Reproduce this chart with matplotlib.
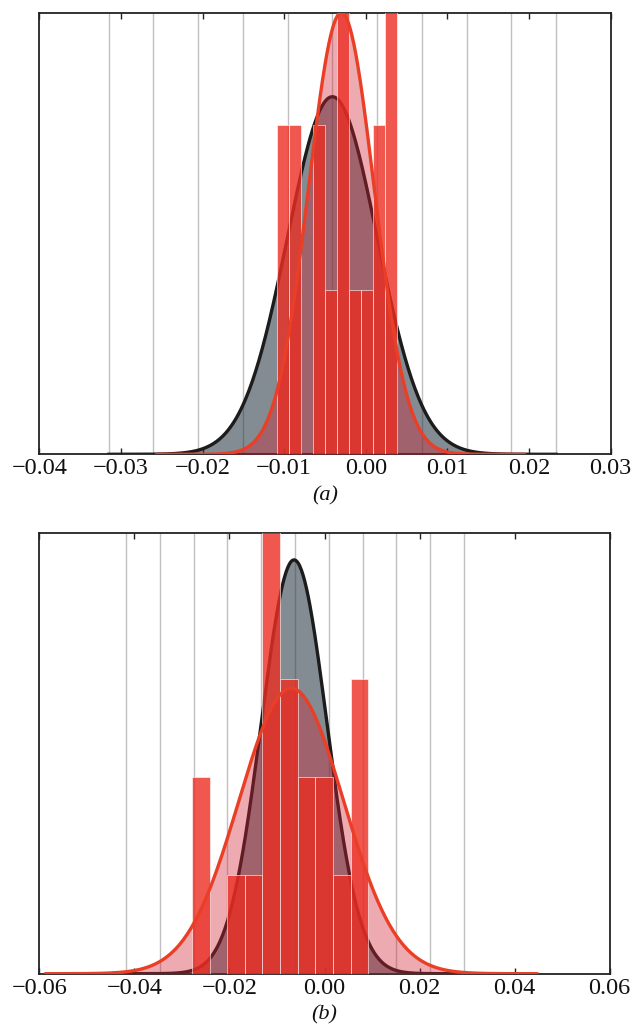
import numpy as np
import matplotlib
matplotlib.use("Agg")
import matplotlib.pyplot as plt
from matplotlib import font_manager as fm

# ---------------- data ----------------
# panel (a)
a_edges = [-0.01087, -0.00941, -0.00794, -0.00648, -0.00501, -0.00355,
           -0.00208, -0.00062, 0.00084, 0.00231, 0.00377]
a_counts = [2, 2, 0, 2, 1, 3, 1, 1, 2, 3]
a_black = dict(mean=-0.0041, sigma=0.0055, peak=2.174, lo=-0.03149, hi=0.02331)
a_red = dict(mean=-0.0030, sigma=0.0040, peak=2.685, lo=-0.0256, hi=0.0194)
a_xticks = [-0.04, -0.03, -0.02, -0.01, 0.00, 0.01, 0.02, 0.03]
a_xlim = (-0.04, 0.03)
a_ylim = (0, 2.685)

# panel (b)
b_edges = [-0.02790, -0.02419, -0.02048, -0.01677, -0.01306, -0.00935,
           -0.00564, -0.00193, 0.00178, 0.00549, 0.00920]
b_counts = [2, 0, 1, 1, 5, 3, 2, 2, 1, 3]
b_black = dict(mean=-0.0064, sigma=0.0069, peak=4.213, lo=-0.04176, hi=0.02936)
b_red = dict(mean=-0.0070, sigma=0.0110, peak=2.906, lo=-0.0586, hi=0.04465)
b_xticks = [-0.06, -0.04, -0.02, 0.00, 0.02, 0.04, 0.06]
b_xlim = (-0.06, 0.06)
b_ylim = (0, 4.49)

labels = ["(a)", "(b)"]

# ---------------- style ----------------
BAR = "#eb2d23"
RED_LINE = "#ea3f26"
RED_FILL = "#d22030"
BLACK_LINE = "#1c1c1c"
BLACK_FILL = "#2f3f4a"
GRID = "#c0c0c0"

try:
    serif_path = fm.findfont(fm.FontProperties(family="Liberation Serif"),
                             fallback_to_default=False)
    TICKFONT = fm.FontProperties(fname=serif_path, size=17.5)
    LABFONT = fm.FontProperties(fname=fm.findfont(
        fm.FontProperties(family="Liberation Serif", style="italic"),
        fallback_to_default=False), size=16)
except Exception:
    TICKFONT = fm.FontProperties(family="serif", size=17.5)
    LABFONT = fm.FontProperties(family="serif", style="italic", size=16)

fig = plt.figure(figsize=(6.35, 10.25), dpi=100)
ax_a = fig.add_axes([39.3 / 635, 1 - 454.3 / 1025, (610.7 - 39.3) / 635, (454.3 - 12.7) / 1025])
ax_b = fig.add_axes([39.3 / 635, 1 - 973.7 / 1025, (609.7 - 39.3) / 635, (973.7 - 532.7) / 1025])


def gauss(p, n=400):
    x = np.linspace(p["lo"], p["hi"], n)
    y = p["peak"] * np.exp(-0.5 * ((x - p["mean"]) / p["sigma"]) ** 2)
    return x, y


def fmt(v):
    if abs(v) < 1e-12:
        return "0.00"
    s = "%.2f" % v
    return "\u2212" + s[1:] if v < 0 else s


def panel(ax, edges, counts, black, red, xticks, xlim, ylim, label):
    # grid lines spanning the fitted-curve range
    for gx in np.linspace(black["lo"], black["hi"], 11):
        ax.axvline(gx, color=GRID, lw=1.0, zorder=0)
    xb, yb = gauss(black)
    ax.fill_between(xb, 0, yb, color=BLACK_FILL, alpha=0.6, lw=0, zorder=1)
    ax.plot(xb, yb, color=BLACK_LINE, lw=2.4, zorder=2)
    xr, yr = gauss(red)
    ax.fill_between(xr, 0, yr, color=RED_FILL, alpha=0.38, lw=0, zorder=3)
    e = np.array(edges)
    ax.bar(e[:-1], counts, width=np.diff(e), align="edge", color=BAR,
           alpha=0.8, edgecolor="white", linewidth=0.5, zorder=4)
    ax.plot(xr, yr, color=RED_LINE, lw=2.4, zorder=5)

    ax.set_xlim(*xlim)
    ax.set_ylim(*ylim)
    ax.set_yticks([])
    ax.set_xticks(xticks)
    ax.set_xticklabels([fmt(v) for v in xticks], fontproperties=TICKFONT)
    ax.tick_params(axis="x", direction="in", top=True, bottom=True,
                   length=4, width=1, pad=3, colors="#222222", labelcolor="#111111")
    for s in ax.spines.values():
        s.set_linewidth(1.3)
        s.set_color("#222222")
    ax.text(0.5, -0.093, label, transform=ax.transAxes, ha="center", va="center",
            fontproperties=LABFONT, color="#111111")


panel(ax_a, a_edges, a_counts, a_black, a_red, a_xticks, a_xlim, a_ylim, labels[0])
panel(ax_b, b_edges, b_counts, b_black, b_red, b_xticks, b_xlim, b_ylim, labels[1])

fig.savefig("out.png", dpi=100)
